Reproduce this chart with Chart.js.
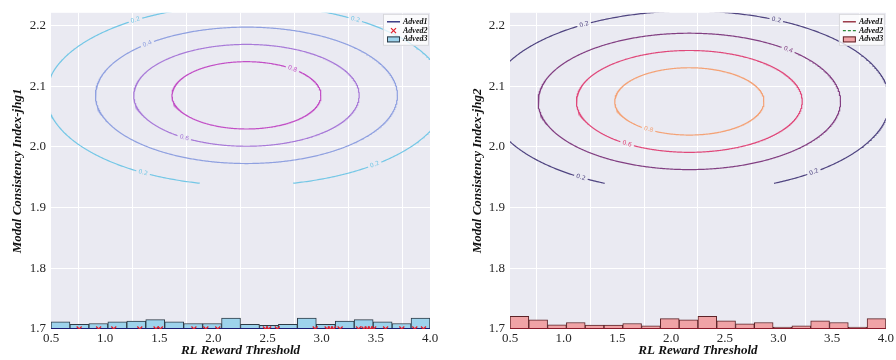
<!DOCTYPE html>
<html>
<head>
<meta charset="utf-8">
<script src="https://cdn.jsdelivr.net/npm/chart.js@4.4.0/dist/chart.umd.min.js"></script>
<style>
  html, body { margin: 0; padding: 0; background: #fff; }
  #wrap { position: relative; width: 896px; height: 360px; }
  .panel { position: absolute; top: 0; height: 360px; }
  #left { left: 0; width: 448px; }
  #right { left: 460px; width: 436px; }
</style>
</head>
<body>
<div id="wrap">
  <div class="panel" id="left"><canvas id="chartLeft" width="448" height="360"></canvas></div>
  <div class="panel" id="right"><canvas id="chartRight" width="436" height="360"></canvas></div>
</div>
<script>
// ---- data ----
const seriesNames = ['Adved1', 'Adved2', 'Adved3'];
const yTitles = ['Modal Consistency Index-jhg1', 'Modal Consistency Index-jhg2'];
const xTitle = 'RL Reward Threshold';
const baseY = 1.7;

// histogram bins (centres) and bar heights above the baseline
const binCenters = [0.5875, 0.7625, 0.9375, 1.1125, 1.2875, 1.4625, 1.6375, 1.8125, 1.9875, 2.1625,
                    2.3375, 2.5125, 2.6875, 2.8625, 3.0375, 3.2125, 3.3875, 3.5625, 3.7375, 3.9125];
const histLeft = [0.0117, 0.0075, 0.009, 0.0117, 0.013, 0.0155, 0.012, 0.009, 0.009, 0.018,
                  0.0075, 0.006, 0.0075, 0.018, 0.0075, 0.013, 0.0155, 0.012, 0.009, 0.018];
const histRight = [0.0208, 0.015, 0.007, 0.0107, 0.0064, 0.0064, 0.009, 0.0053, 0.017, 0.015,
                   0.0208, 0.0133, 0.0085, 0.0107, 0.0032, 0.0053, 0.0133, 0.0107, 0.0032, 0.017];

// Adved2 markers (left panel), sitting on the baseline
const adved2Left = [0.76, 0.94, 1.08, 1.32, 1.47, 1.51, 1.82, 1.93, 2.04, 2.48, 2.51, 2.59, 2.94,
                    3.05, 3.08, 3.11, 3.17, 3.34, 3.39, 3.42, 3.45, 3.48, 3.59, 3.74, 3.86, 3.94];
// Adved1 line along the baseline
const adved1X = [0.5, 4.0];

// gaussian contour model
const contourLevels = [0.2, 0.4, 0.6, 0.8];
const centerLeft = [2.305, 2.085];
const sigmaLeft = [1.03, 0.083];
const centerRight = [2.17, 2.075];
const sigmaRight = [1.04, 0.083];
const meshYMin = 1.94;

// where the inline contour labels sit: [level index, x value, side]
const labelsLeft = [[0, 1.28, 'up'], [0, 3.31, 'up'], [0, 1.35, 'down'], [0, 3.49, 'down'],
                    [1, 1.39, 'up'], [2, 1.73, 'down'], [3, 2.73, 'up']];
const labelsRight = [[0, 1.19, 'up'], [0, 2.98, 'up'], [0, 1.16, 'down'], [0, 3.33, 'down'],
                     [1, 3.09, 'up'], [2, 1.59, 'down'], [3, 1.79, 'down']];

const contourColorsLeft = ['#74C7E6', '#8FA0E0', '#A87AD8', '#C24FC6'];
const contourColorsRight = ['#4F4480', '#823F82', '#E0487A', '#F4A276'];

const serif = "'Liberation Serif', 'Times New Roman', serif";

function ellipsePoints(center, sigma, level) {
  const r = Math.sqrt(-2 * Math.log(level));
  const pts = [];
  for (let i = 0; i <= 720; i++) {
    const t = i / 720 * 2 * Math.PI;
    const x = center[0] + r * sigma[0] * Math.cos(t);
    const y = center[1] + r * sigma[1] * Math.sin(t);
    pts.push({ x: x, y: y < meshYMin ? null : y });
  }
  return pts;
}

function contourDatasets(center, sigma, colors, labels) {
  return contourLevels.map((lv, i) => {
    const r = Math.sqrt(-2 * Math.log(lv));
    return {
      type: 'line',
      label: 'contour ' + lv,
      data: ellipsePoints(center, sigma, lv),
      borderColor: colors[i],
      borderWidth: 1.2,
      pointRadius: 0,
      tension: 0,
      spanGaps: false,
      level: lv,
      ellipse: { cx: center[0], cy: center[1], a: r * sigma[0], b: r * sigma[1] },
      labelAt: labels.filter(l => l[0] === i).map(l => [l[1], l[2]])
    };
  });
}

// background of the plot area
const plotBackground = {
  id: 'plotBackground',
  beforeDraw(chart) {
    const { ctx, chartArea: a } = chart;
    ctx.save();
    ctx.fillStyle = '#EAEAF2';
    ctx.fillRect(a.left, a.top, a.width, a.height);
    ctx.restore();
  }
};

function labelSpots(chart, ds) {
  const xs = chart.scales.x, ys = chart.scales.y;
  const kx = xs.getPixelForValue(1) - xs.getPixelForValue(0);
  const ky = ys.getPixelForValue(1) - ys.getPixelForValue(0);
  const e = ds.ellipse;
  return ds.labelAt.map(([lx, side]) => {
    const c = Math.max(-1, Math.min(1, (lx - e.cx) / e.a));
    const s = (side === 'up' ? 1 : -1) * Math.sqrt(1 - c * c);
    const px = xs.getPixelForValue(lx);
    const py = ys.getPixelForValue(e.cy + e.b * s);
    let ang = Math.atan2(e.b * c * ky, -e.a * s * kx);
    if (ang > Math.PI / 2) ang -= Math.PI;
    if (ang < -Math.PI / 2) ang += Math.PI;
    return { px, py, ang };
  });
}

// inline contour labels: cut a gap into the line and write the level
const contourLabels = {
  id: 'contourLabels',
  beforeDatasetDraw(chart, args) {
    const ds = chart.data.datasets[args.index];
    if (!ds.labelAt) return;
    const ctx = chart.ctx;
    ctx.save();
    ctx.beginPath();
    ctx.rect(0, 0, chart.width, chart.height);
    labelSpots(chart, ds).forEach(p => {
      const hw = 7, hh = 4;
      const cs = Math.cos(p.ang), sn = Math.sin(p.ang);
      const corners = [[-hw, -hh], [hw, -hh], [hw, hh], [-hw, hh]].map(([u, v]) =>
        [p.px + u * cs - v * sn, p.py + u * sn + v * cs]);
      ctx.moveTo(corners[0][0], corners[0][1]);
      corners.slice(1).forEach(c => ctx.lineTo(c[0], c[1]));
      ctx.closePath();
    });
    ctx.clip('evenodd');
  },
  afterDatasetDraw(chart, args) {
    const ds = chart.data.datasets[args.index];
    if (!ds.labelAt) return;
    const ctx = chart.ctx;
    ctx.restore();
    labelSpots(chart, ds).forEach(p => {
      ctx.save();
      ctx.translate(p.px, p.py);
      ctx.rotate(p.ang);
      ctx.font = "6px 'DejaVu Sans', sans-serif";
      ctx.fillStyle = ds.borderColor;
      ctx.textAlign = 'center';
      ctx.textBaseline = 'middle';
      ctx.fillText(ds.level.toFixed(1), 0, 0);
      ctx.restore();
    });
  }
};

// small legend in the upper right corner of the plot
const cornerLegend = {
  id: 'cornerLegend',
  afterDraw(chart, args, opts) {
    if (!opts.items) return;
    const { ctx, chartArea: a } = chart;
    ctx.save();
    ctx.fillStyle = 'rgba(255,255,255,0.75)';
    ctx.strokeStyle = 'rgba(210,210,215,0.9)';
    ctx.lineWidth = 1;
    ctx.fillRect(a.right - 47, a.top + 1, 46, 32);
    ctx.strokeRect(a.right - 46.5, a.top + 1.5, 45, 31);
    opts.items.forEach((it, i) => {
      const y = a.top + 9 + i * 8.8;
      const x0 = a.right - 43, x1 = a.right - 30;
      if (it.kind === 'line') {
        ctx.strokeStyle = it.color;
        ctx.lineWidth = 1.3;
        ctx.setLineDash(it.dash || []);
        ctx.beginPath();
        ctx.moveTo(x0, y);
        ctx.lineTo(x1, y);
        ctx.stroke();
        ctx.setLineDash([]);
      } else if (it.kind === 'marker') {
        const cx = (x0 + x1) / 2, r = 2.5;
        ctx.strokeStyle = it.color;
        ctx.lineWidth = 1.2;
        ctx.beginPath();
        ctx.moveTo(cx - r, y - r); ctx.lineTo(cx + r, y + r);
        ctx.moveTo(cx + r, y - r); ctx.lineTo(cx - r, y + r);
        ctx.stroke();
      } else {
        ctx.fillStyle = it.color;
        ctx.strokeStyle = it.edge;
        ctx.lineWidth = 1;
        ctx.fillRect(x0, y - 3, 13, 6);
        ctx.strokeRect(x0 + 0.5, y - 2.5, 12, 5);
      }
      ctx.fillStyle = '#111';
      ctx.font = 'italic bold 8px ' + serif;
      ctx.textAlign = 'left';
      ctx.textBaseline = 'middle';
      ctx.fillText(seriesNames[i], a.right - 27, y);
    });
    ctx.restore();
  }
};

function makeChart(canvasId, opt) {
  const bars = {
    type: 'bar',
    label: seriesNames[2],
    data: binCenters.map((c, i) => ({ x: c, y: [baseY, baseY + opt.hist[i]] })),
    backgroundColor: opt.barFill,
    borderColor: opt.barEdge,
    borderWidth: 1,
    borderSkipped: false,
    barPercentage: 1,
    categoryPercentage: 1
  };
  const line1 = {
    type: 'line',
    label: seriesNames[0],
    data: adved1X.map(x => ({ x: x, y: baseY })),
    borderColor: opt.line1,
    borderWidth: 2,
    pointRadius: 0
  };
  const markers = {
    type: 'scatter',
    label: seriesNames[1],
    data: opt.markers.map(x => ({ x: x, y: baseY })),
    pointStyle: 'crossRot',
    pointRadius: 3.5,
    borderColor: '#E0202E',
    backgroundColor: '#E0202E',
    borderWidth: 1.3,
    clip: 0
  };
  // Chart.js paints the first dataset on top
  const datasets = [];
  if (opt.markers.length) datasets.push(markers);
  datasets.push(line1, bars);

  return new Chart(document.getElementById(canvasId), {
    type: 'line',
    data: { datasets: datasets.concat(contourDatasets(opt.center, opt.sigma, opt.colors, opt.labels)) },
    options: {
      responsive: false,
      animation: false,
      layout: { padding: { top: 3, right: opt.padRight, bottom: 0, left: 0 } },
      plugins: {
        legend: { display: false },
        tooltip: { enabled: false },
        cornerLegend: { items: opt.legend }
      },
      scales: {
        x: {
          type: 'linear',
          min: 0.5,
          max: 4.0,
          offset: false,
          border: { display: false },
          grid: { color: '#ffffff', lineWidth: 1, drawTicks: false },
          ticks: {
            stepSize: 0.5,
            padding: 2,
            maxRotation: 0,
            autoSkip: false,
            color: '#262626',
            font: { family: serif, size: 13 },
            callback: v => v.toFixed(1)
          },
          title: {
            display: true,
            text: xTitle,
            color: '#111',
            font: { family: serif, size: 13, style: 'italic', weight: 'bold' },
            padding: { top: 0, bottom: 2 }
          },
          afterFit: s => { s.height = 31; }
        },
        y: {
          type: 'linear',
          min: 1.7,
          max: 2.221,
          border: { display: false },
          grid: { color: '#ffffff', lineWidth: 1, drawTicks: false },
          ticks: {
            stepSize: 0.1,
            includeBounds: false,
            padding: 5,
            color: '#262626',
            font: { family: serif, size: 13 },
            callback: v => v.toFixed(1)
          },
          title: {
            display: true,
            text: opt.yTitle,
            color: '#111',
            font: { family: serif, size: 13, style: 'italic', weight: 'bold' },
            padding: { top: 10, bottom: 0 }
          },
          afterFit: s => { s.width = opt.yWidth; }
        }
      }
    },
    plugins: [plotBackground, contourLabels, cornerLegend]
  });
}

// left panel
makeChart('chartLeft', {
  hist: histLeft,
  barFill: '#9DD3EC',
  barEdge: '#2E3B47',
  line1: '#1C1C72',
  markers: adved2Left,
  center: centerLeft,
  sigma: sigmaLeft,
  colors: contourColorsLeft,
  labels: labelsLeft,
  yTitle: yTitles[0],
  yWidth: 51,
  padRight: 18,
  legend: [
    { kind: 'line', color: '#1C1C72' },
    { kind: 'marker', color: '#E0202E' },
    { kind: 'patch', color: '#9DD3EC', edge: '#2E3B47' }
  ]
});

// right panel
makeChart('chartRight', {
  hist: histRight,
  barFill: '#F0A3A6',
  barEdge: '#5C2328',
  line1: '#8B1A2B',
  markers: [],
  center: centerRight,
  sigma: sigmaRight,
  colors: contourColorsRight,
  labels: labelsRight,
  yTitle: yTitles[1],
  yWidth: 50,
  padRight: 7,
  legend: [
    { kind: 'line', color: '#8B1A2B' },
    { kind: 'line', color: '#2E8B3A', dash: [3, 2] },
    { kind: 'patch', color: '#F0A3A6', edge: '#5C2328' }
  ]
});
</script>
</body>
</html>
